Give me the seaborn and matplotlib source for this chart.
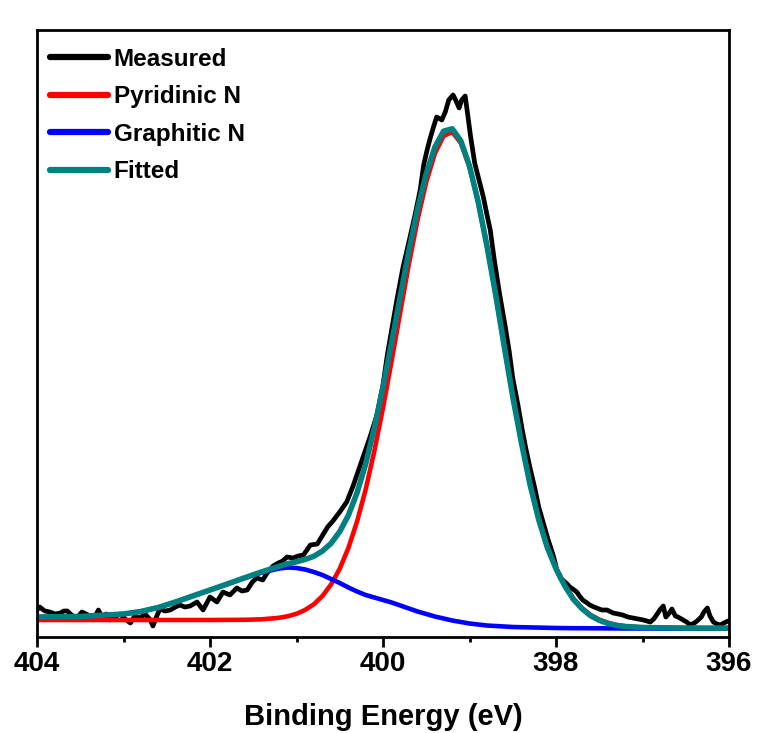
import matplotlib
matplotlib.use("Agg")
import matplotlib.pyplot as plt
import pandas as pd
import seaborn as sns
from matplotlib.ticker import MultipleLocator

# ---------------- data ----------------
measured_energy = [
    404.00, 403.97, 403.91, 403.85, 403.79, 403.73, 403.69, 403.65, 403.60, 403.54,
    403.48, 403.41, 403.35, 403.29, 403.25, 403.20, 403.16, 403.10, 403.04, 402.98,
    402.92, 402.87, 402.81, 402.75, 402.69, 402.66, 402.61, 402.58, 402.52, 402.46,
    402.40, 402.35, 402.29, 402.23, 402.15, 402.08, 402.00, 401.92, 401.85, 401.77,
    401.69, 401.63, 401.57, 401.51, 401.46, 401.39, 401.34, 401.27, 401.21, 401.16,
    401.11, 401.04, 400.98, 400.92, 400.84, 400.76, 400.69, 400.64, 400.58, 400.50,
    400.42, 400.35, 400.29, 400.21, 400.15, 400.07, 400.00, 399.95, 399.88, 399.84,
    399.77, 399.69, 399.63, 399.57, 399.53, 399.49, 399.46, 399.42, 399.38, 399.32,
    399.28, 399.24, 399.19, 399.16, 399.12, 399.09, 399.05, 399.02, 398.99, 398.94,
    398.89, 398.84, 398.80, 398.76, 398.71, 398.65, 398.59, 398.54, 398.50, 398.44,
    398.39, 398.35, 398.30, 398.24, 398.20, 398.15, 398.09, 398.03, 397.99, 397.95,
    397.91, 397.87, 397.84, 397.79, 397.76, 397.72, 397.69, 397.64, 397.61, 397.56,
    397.53, 397.47, 397.41, 397.34, 397.28, 397.23, 397.17, 397.11, 397.05, 396.99,
    396.95, 396.91, 396.87, 396.83, 396.80, 396.76, 396.73, 396.69, 396.66, 396.62,
    396.59, 396.53, 396.49, 396.45, 396.40, 396.37, 396.32, 396.29, 396.25, 396.22,
    396.18, 396.14, 396.10, 396.06, 396.01,
]
measured_intensity = [
    27, 30, 26, 25, 23, 24, 26, 26, 22, 19,
    25, 22, 17, 27, 20, 23, 17, 20, 23, 18,
    14, 21, 19, 23, 17, 11, 22, 28, 26, 27,
    30, 32, 30, 31, 35, 27, 40, 35, 45, 42,
    49, 46, 47, 55, 59, 57, 64, 71, 74, 76,
    80, 79, 81, 82, 92, 93, 103, 110, 116, 125,
    135, 150, 165, 185, 200, 222, 252, 282, 317, 337,
    369, 399, 422, 447, 472, 487, 497, 509, 520, 517,
    525, 537, 542, 537, 529, 537, 541, 522, 502, 474,
    457, 440, 423, 407, 375, 342, 312, 285, 259, 232,
    207, 189, 169, 147, 130, 115, 97, 81, 67, 59,
    56, 53, 50, 47, 45, 40, 37, 34, 32, 30,
    29, 27, 27, 24, 23, 22, 20, 19, 18, 17,
    16, 15, 18, 23, 27, 31, 20, 24, 28, 21,
    20, 17, 15, 12, 14, 16, 20, 25, 29, 21,
    15, 13, 12, 14, 16,
]

component_energy = [
    404.0, 403.5, 403.0, 402.8, 402.6, 402.4, 402.2, 402.0, 401.8, 401.6, 401.4,
    401.2, 401.1, 401.0, 400.9, 400.8, 400.7, 400.6, 400.5, 400.4, 400.3,
    400.2, 400.1, 400.0, 399.9, 399.8, 399.7, 399.6, 399.5, 399.4, 399.3,
    399.2, 399.1, 399.0, 398.9, 398.8, 398.7, 398.6, 398.5, 398.4, 398.3,
    398.2, 398.1, 398.0, 397.9, 397.8, 397.7, 397.6, 397.5, 397.4, 397.3,
    397.2, 397.0, 396.5, 396.0,
]
pyridinic_n = [
    17, 17, 17, 17, 17, 17, 17, 17, 17.1, 17.2, 17.7,
    19.2, 20.8, 23.2, 27.1, 32.7, 41.0, 52.6, 68.3, 89.0, 115.4,
    147.7, 185.9, 229.0, 276.2, 325.0, 373.3, 417.4, 454.9, 483.5, 501,
    505, 494, 470, 435, 392, 344, 292, 241, 195, 153,
    118, 90, 69, 52, 38.5, 29, 22, 17.4, 14.2, 12.1,
    10.8, 9.5, 9, 9,
]
graphitic_n = [
    20, 20.5, 23, 25.5, 29.5, 35, 41, 47, 53, 59, 64.5,
    68.5, 69.5, 69, 67.5, 65, 62, 58, 54, 49.5, 45.5,
    42, 39.5, 37, 34.5, 31.5, 28.5, 25.5, 23, 20.5, 18.5,
    16.5, 15, 13.5, 12.5, 11.5, 11, 10.5, 10, 9.8, 9.6,
    9.4, 9.2, 9.0, 8.9, 8.8, 8.8, 8.7, 8.7, 8.6, 8.6,
    8.5, 8.5, 8.4, 8.3,
]
fitted = [
    20, 20.5, 23, 25.5, 29.5, 35, 41, 47, 53, 59.2, 65.2,
    70.7, 73.3, 75.2, 77.6, 80.7, 86, 93.7, 105.4, 121.7, 144.2,
    173.1, 209, 249.8, 294.7, 340.8, 386.5, 428, 463.4, 489.9, 505.8,
    508.2, 496.1, 471, 435.4, 391.8, 343.7, 291.5, 240.3, 194.4, 152.4,
    117.4, 89.4, 68.3, 51.3, 37.8, 28.3, 21.3, 16.7, 13.6, 11.5,
    10.5, 9.5, 8.9, 8.8,
]
x_ticks = [404, 402, 400, 398, 396]
x_label = "Binding Energy (eV)"

# ---------------- style ----------------
sns.set_theme(style="ticks")
plt.rcParams["font.family"] = ["Liberation Sans", "DejaVu Sans"]
plt.rcParams["font.weight"] = "bold"

fig = plt.figure(figsize=(7.58, 7.33), dpi=100)
ax = fig.add_axes([37 / 758, 96 / 733, 692 / 758, 607 / 733])

meas = pd.DataFrame({"E": measured_energy, "I": measured_intensity})
comp = pd.DataFrame({"E": component_energy, "pyr": pyridinic_n,
                     "gra": graphitic_n, "fit": fitted})

sns.lineplot(data=meas, x="E", y="I", color="black", lw=3.4, label="Measured",
             ax=ax, estimator=None, sort=False)
sns.lineplot(data=comp, x="E", y="pyr", color="#FF0000", lw=3.3, label="Pyridinic N",
             ax=ax, estimator=None, sort=False)
sns.lineplot(data=comp, x="E", y="gra", color="#0000FF", lw=3.3, label="Graphitic N",
             ax=ax, estimator=None, sort=False)
sns.lineplot(data=comp, x="E", y="fit", color="#008080", lw=4.0, label="Fitted",
             ax=ax, estimator=None, sort=False)

ax.set_xlim(404, 396)
ax.set_ylim(0, 607)
ax.set_yticks([])
ax.set_ylabel("")
ax.set_xticks(x_ticks)
ax.xaxis.set_minor_locator(MultipleLocator(1))
ax.tick_params(axis="x", which="major", direction="out", length=7, width=2,
               labelsize=20, pad=3, colors="black")
ax.tick_params(axis="x", which="minor", direction="out", length=3.5, width=2,
               colors="black")
for lbl in ax.get_xticklabels():
    lbl.set_fontweight("bold")
for s in ax.spines.values():
    s.set_visible(True)
    s.set_linewidth(2)
    s.set_color("black")
ax.set_xlabel(x_label, fontsize=21, fontweight="bold", labelpad=19, color="black")

leg = ax.legend(loc="upper left", bbox_to_anchor=(0.0188, 0.971), frameon=False,
                prop={"weight": "bold", "size": 17.5}, handlelength=2.37,
                handletextpad=0.25, labelspacing=0.6, borderpad=0, borderaxespad=0)
for h in leg.legend_handles:
    h.set_linewidth(4.5)
for t in leg.get_texts():
    t.set_color("black")

fig.savefig("out.png", dpi=100)
